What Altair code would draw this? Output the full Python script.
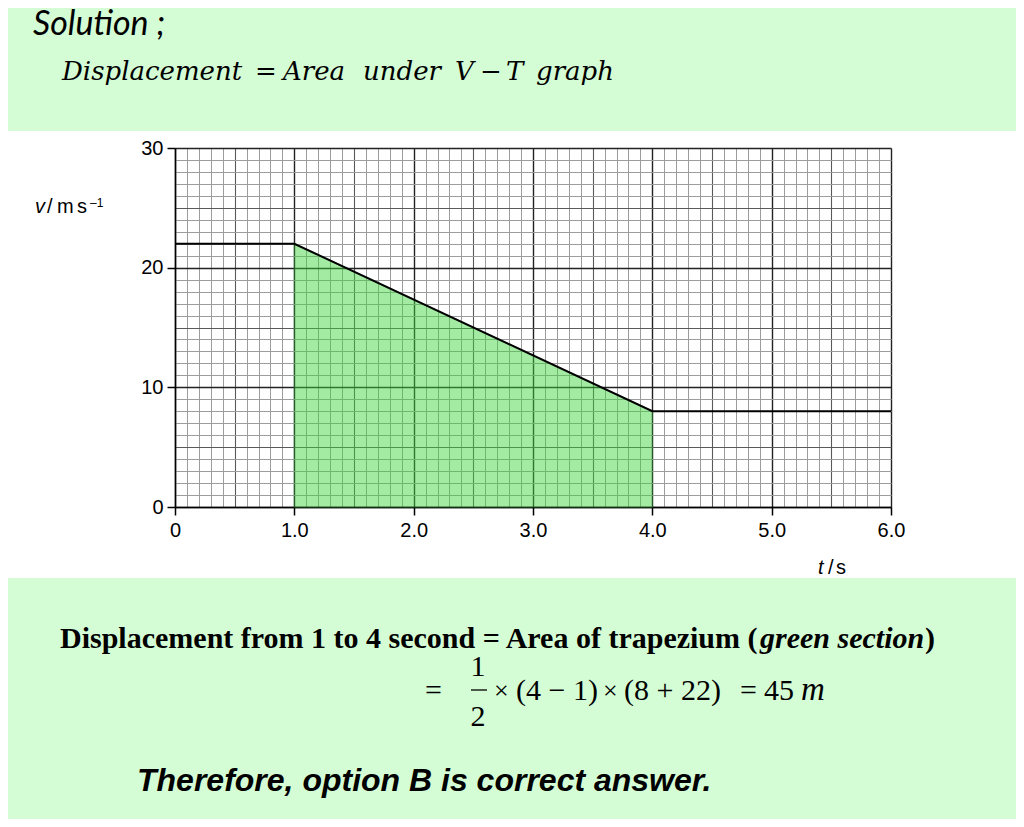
import altair as alt
import pandas as pd

# ---- data ----
t_line = [0.0, 1.0, 4.0, 6.0]
v_line = [22.0, 22.0, 8.0, 8.0]
t_area = [1.0, 4.0]
v_area = [22.0, 8.0]
x_ticks = [round(k * 0.1, 1) for k in range(61)]
y_ticks = list(range(31))

line_df = pd.DataFrame({"t": t_line, "v": v_line})
area_df = pd.DataFrame({"t": t_area, "v": v_area})
one = pd.DataFrame({"a": [0]})

BG = "#d5fdd5"
W, H = 716, 359

gx_major = "round(datum.value*10) % 10 === 0"
gx_mid = "round(datum.value*10) % 5 === 0"
gy_major = "datum.value % 10 === 0"
gy_mid = "datum.value % 5 === 0"


def grid_color(major, mid):
    return {"condition": [{"test": major, "value": "#222222"},
                          {"test": mid, "value": "#5a5a5a"}],
            "value": "#9c9c9c"}


def grid_width(major, mid):
    return {"condition": [{"test": major, "value": 1.4},
                          {"test": mid, "value": 1.1}],
            "value": 1}


x_scale = alt.Scale(domain=[0, 6], nice=False, zero=False)
y_scale = alt.Scale(domain=[0, 30], nice=False, zero=False)

x_axis = alt.Axis(
    values=x_ticks, tickCount=200, title=None, grid=True,
    gridColor=grid_color(gx_major, gx_mid), gridWidth=grid_width(gx_major, gx_mid),
    gridOpacity=1,
    labelExpr="round(datum.value*10) % 10 === 0 ? (datum.value === 0 ? '0' : format(datum.value, '.1f')) : ''",
    labelOverlap=False, labelFlush=False, labelFont="Liberation Sans", labelFontSize=20,
    labelColor="black", labelPadding=5,
    tickColor="black", tickSize=8, tickWidth=1.5,
    tickOpacity={"condition": {"test": gx_major, "value": 1}, "value": 0},
    domainColor="black", domainWidth=1.5,
)
y_axis = alt.Axis(
    values=y_ticks, tickCount=200, title=None, grid=True,
    gridColor=grid_color(gy_major, gy_mid), gridWidth=grid_width(gy_major, gy_mid),
    gridOpacity=1,
    labelExpr="datum.value % 10 === 0 ? format(datum.value, 'd') : ''",
    labelOverlap=False, labelFlush=False, labelFont="Liberation Sans", labelFontSize=20,
    labelColor="black", labelPadding=4,
    tickColor="black", tickSize=8, tickWidth=1.5,
    tickOpacity={"condition": {"test": gy_major, "value": 1}, "value": 0},
    domainColor="black", domainWidth=1.5,
)


# green page bands around the white panel
def band(x1, x2, y1, y2):
    return alt.Chart(one).mark_rect(color=BG).encode(
        x=alt.value(x1), x2=alt.value(x2), y=alt.value(y1), y2=alt.value(y2))


bands = [
    band(-170, 845, -145, -17),
    band(-170, 845, 430, 680),
]

area = alt.Chart(area_df).mark_area(
    color="#3ed43e", opacity=0.47, stroke="#2e9a2e", strokeWidth=1.5, strokeOpacity=0.9
).encode(
    x=alt.X("t:Q", scale=x_scale, axis=x_axis),
    y=alt.Y("v:Q", scale=y_scale, axis=y_axis),
    y2=alt.datum(0),
)

line = alt.Chart(line_df).mark_line(color="black", strokeWidth=2).encode(
    x=alt.X("t:Q", scale=x_scale),
    y=alt.Y("v:Q", scale=y_scale),
)


def txt(s, x, y, size, font, style="normal", weight="normal", align="left"):
    return alt.Chart(one).mark_text(
        text=s, align=align, baseline="alphabetic", font=font, fontSize=size,
        fontStyle=style, fontWeight=weight, color="black"
    ).encode(x=alt.value(x), y=alt.value(y))


SERIF = "Liberation Serif"
DSERIF = "DejaVu Serif"
SANS = "Liberation Sans"

texts = [txt("Solution ;", -142, -113, 34, "Lato", style="italic")]

# heading words, placed where they sit in the reference
head_words = ["Displacement", "=", "Area", "under", "V", "−", "T", "graph"]
head_x = [-113, 80, 108, 188, 280, 305, 331, 361]
for w, x in zip(head_words, head_x):
    texts.append(txt(w, x, -68, 26, DSERIF, style="italic" if w not in ("=", "−") else "normal"))

# axis titles
texts += [
    txt("v", -140, 65, 20, SANS, style="italic"),
    txt("/", -128, 65, 20, SANS),
    txt("m", -118, 65, 20, SANS),
    txt("s", -98, 65, 20, SANS),
    txt("–1", -85, 59, 12, SANS),
    txt("t", 643, 426, 20, SANS, style="italic"),
    txt("/", 653, 426, 20, SANS),
    txt("s", 661, 426, 20, SANS),
]

# explanation line (bold serif)
texts += [
    txt("Displacement from 1 to 4 second =  Area of trapezium (", -115, 500, 30, SERIF, weight="bold"),
    txt("green section", 585, 500, 30, SERIF, style="italic", weight="bold"),
    txt(")", 750, 500, 30, SERIF, weight="bold"),
]

# formula
texts += [
    txt("=", 250, 552, 30, SERIF),
    txt("1", 303, 528, 30, SERIF, align="center"),
    txt("2", 303, 578, 30, SERIF, align="center"),
    txt("×", 319, 551, 26, SERIF),
    txt("(4 − 1)", 341, 552, 30, SERIF),
    txt("×", 428, 551, 26, SERIF),
    txt("(8 + 22)", 449, 552, 30, SERIF),
    txt("=", 565, 552, 30, SERIF),
    txt("45", 589, 552, 30, SERIF),
    txt("m", 626, 552, 33, SERIF, style="italic"),
    txt("Therefore, option B is correct answer.", -38, 643, 32, SANS, style="italic", weight="bold"),
]

frac = alt.Chart(one).mark_rule(color="black", strokeWidth=1.3).encode(
    x=alt.value(296), x2=alt.value(312), y=alt.value(542))

chart = alt.layer(*bands, area, line, frac, *texts).properties(
    width=W, height=H,
    autosize=alt.AutoSizeParams(type="none"),
    padding={"left": 167, "top": 140, "right": 125, "bottom": 312},
    background="white",
).configure_view(stroke=None)

chart.save("out.html", embed_options={"renderer": "svg", "actions": False})
